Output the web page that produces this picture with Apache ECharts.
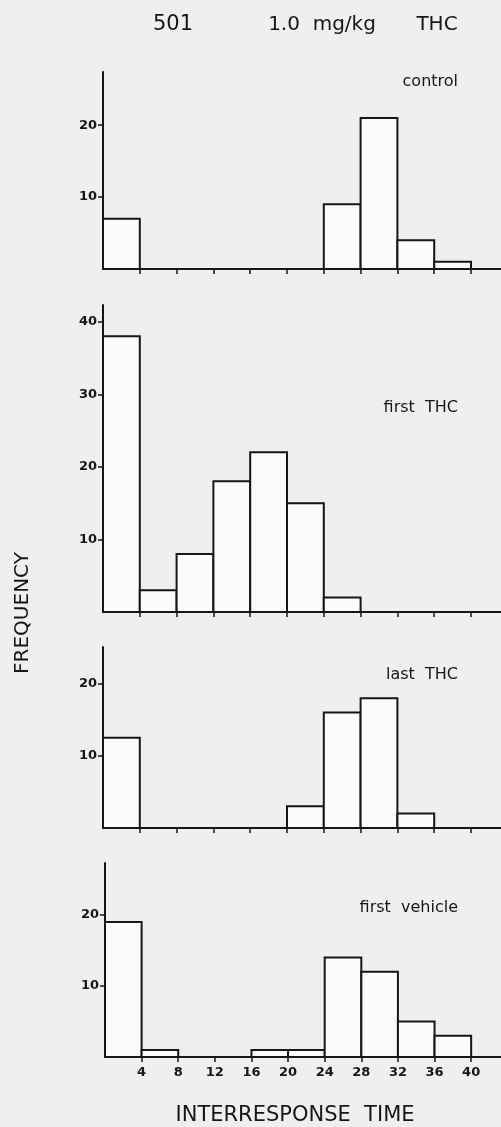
<!DOCTYPE html>
<html>
<head>
<meta charset="utf-8">
<script src="https://cdn.jsdelivr.net/npm/echarts@6/dist/echarts.min.js"></script>
<style>
html,body{margin:0;padding:0;background:#efefed;}
#chart{width:501px;height:1127px;}
</style>
</head>
<body>
<div id="chart"></div>
<script>
// ---- data ----
const binStarts = [0, 4, 8, 12, 16, 20, 24, 28, 32, 36];
const binWidth = 4;
const xTickValues = [4, 8, 12, 16, 20, 24, 28, 32, 36, 40];
const panelNames = ['control', 'first  THC', 'last  THC', 'first  vehicle'];
const controlFreq = [7, 0, 0, 0, 0, 0, 9, 21, 4, 1];
const firstTHCFreq = [38, 3, 8, 18, 22, 15, 2, 0, 0, 0];
const lastTHCFreq = [12.5, 0, 0, 0, 0, 3, 16, 18, 2, 0];
const firstVehicleFreq = [19, 1, 0, 0, 1, 1, 14, 12, 5, 3];
const yTicksControl = [10, 20];
const yTicksFirstTHC = [10, 20, 30, 40];
const yTicksLastTHC = [10, 20];
const yTicksFirstVehicle = [10, 20];
const yMaxes = [27.4, 42.3, 25.1, 27.3];

const allFreq = [controlFreq, firstTHCFreq, lastTHCFreq, firstVehicleFreq];
const allYTicks = [yTicksControl, yTicksFirstTHC, yTicksLastTHC, yTicksFirstVehicle];

// ---- layout ----
const grids = [
  {left: 103, top: 72, height: 197},
  {left: 103, top: 305, height: 307},
  {left: 103, top: 647, height: 181},
  {left: 105, top: 863, height: 194}
];
const xMax = 43.26;
const ink = '#161616';

const chart = echarts.init(document.getElementById('chart'));

const option = {
  backgroundColor: '#efefed',
  animation: false,
  grid: grids.map(g => ({left: g.left, top: g.top, height: g.height, right: 0})),
  xAxis: grids.map((g, i) => ({
    gridIndex: i,
    type: 'value',
    min: 0,
    max: xMax,
    splitLine: {show: false},
    axisLine: {show: true, lineStyle: {color: ink, width: 2}},
    axisTick: {show: true, customValues: xTickValues, length: 5, inside: false,
      lineStyle: {color: ink, width: 1.5}},
    axisLabel: {show: i === 3, customValues: xTickValues, margin: 9,
      color: ink, fontSize: 13, fontWeight: 'bold', fontFamily: 'DejaVu Sans'}
  })),
  yAxis: grids.map((g, i) => ({
    gridIndex: i,
    type: 'value',
    min: 0,
    max: yMaxes[i],
    splitLine: {show: false},
    axisLine: {show: true, lineStyle: {color: ink, width: 2}},
    axisTick: {show: true, customValues: allYTicks[i], length: 5,
      lineStyle: {color: ink, width: 1.5}},
    axisLabel: {show: true, customValues: allYTicks[i], margin: 6,
      color: ink, fontSize: 13, fontWeight: 'bold', fontFamily: 'DejaVu Sans'}
  })),
  series: allFreq.map((freq, i) => ({
    type: 'custom',
    xAxisIndex: i,
    yAxisIndex: i,
    data: binStarts.map((s, k) => [s, s + binWidth, freq[k]]),
    encode: {x: [0, 1], y: 2},
    renderItem: function (params, api) {
      const v = api.value(2);
      if (!v) return null;
      const p0 = api.coord([api.value(0), v]);
      const p1 = api.coord([api.value(1), 0]);
      return {
        type: 'rect',
        shape: {x: p0[0], y: p0[1], width: p1[0] - p0[0], height: p1[1] - p0[1]},
        style: {fill: '#fbfbfa', stroke: ink, lineWidth: 2}
      };
    }
  })),
  graphic: [
    {type: 'text', x: 173, y: 25, style: {text: '501', fill: ink, font: '21px "DejaVu Sans"', align: 'center', verticalAlign: 'middle'}},
    {type: 'text', x: 322, y: 25, style: {text: '1.0  mg/kg', fill: ink, font: '20px "DejaVu Sans"', align: 'center', verticalAlign: 'middle'}},
    {type: 'text', x: 437, y: 25, style: {text: 'THC', fill: ink, font: '20px "DejaVu Sans"', align: 'center', verticalAlign: 'middle'}},
    {type: 'text', x: 458, y: 82, style: {text: panelNames[0], fill: ink, font: '16px "DejaVu Sans"', align: 'right', verticalAlign: 'middle'}},
    {type: 'text', x: 458, y: 408, style: {text: panelNames[1], fill: ink, font: '16px "DejaVu Sans"', align: 'right', verticalAlign: 'middle'}},
    {type: 'text', x: 458, y: 675, style: {text: panelNames[2], fill: ink, font: '16px "DejaVu Sans"', align: 'right', verticalAlign: 'middle'}},
    {type: 'text', x: 458, y: 908, style: {text: panelNames[3], fill: ink, font: '16px "DejaVu Sans"', align: 'right', verticalAlign: 'middle'}},
    {type: 'text', x: 23, y: 613, rotation: Math.PI / 2,
      style: {text: 'FREQUENCY', fill: ink, font: '20px "DejaVu Sans"', align: 'center', verticalAlign: 'middle'}},
    {type: 'text', x: 295, y: 1116,
      style: {text: 'INTERRESPONSE  TIME', fill: ink, font: '21px "DejaVu Sans"', align: 'center', verticalAlign: 'middle'}}
  ]
};
chart.setOption(option);
</script>
</body>
</html>
